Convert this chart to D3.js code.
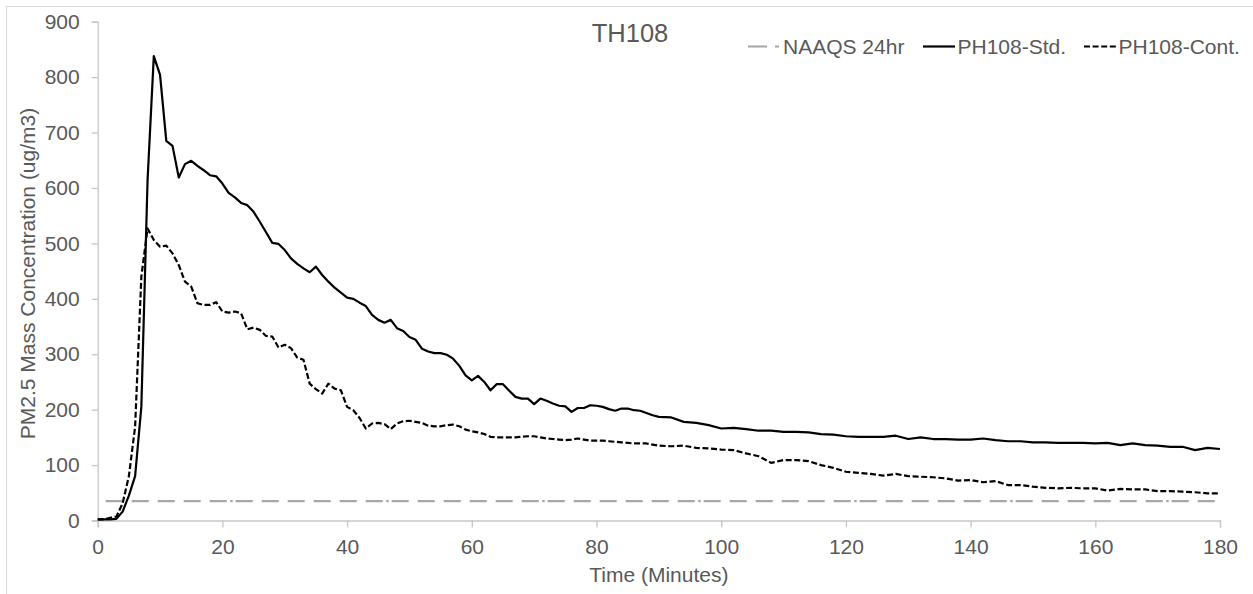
<!DOCTYPE html>
<html>
<head>
<meta charset="utf-8">
<script src="https://cdn.jsdelivr.net/npm/d3@7"></script>
<style>
  html, body { margin: 0; padding: 0; background: #ffffff; }
  svg { display: block; font-family: "Liberation Sans", Arial, sans-serif; }
</style>
</head>
<body>
<svg id="chart" width="1253" height="594"></svg>
<script>
// ---------------- DATA ----------------
const chartTitle = "TH108";
const xAxisTitle = "Time (Minutes)";
const yAxisTitle = "PM2.5 Mass Concentration (ug/m3)";
const xTicks = [0, 20, 40, 60, 80, 100, 120, 140, 160, 180];
const yTicks = [0, 100, 200, 300, 400, 500, 600, 700, 800, 900];
const seriesNames = ["NAAQS 24hr", "PH108-Std.", "PH108-Cont."];

const minutes = [
  0,1,2,3,4,5,6,7,8,9,10,11,12,13,14,15,16,17,18,19,20,21,22,23,24,25,26,27,28,29,
  30,31,32,33,34,35,36,37,38,39,40,41,42,43,44,45,46,47,48,49,50,51,52,53,54,55,56,57,58,59,
  60,61,62,63,64,65,66,67,68,69,70,71,72,73,74,75,76,77,78,79,80,81,82,83,84,85,86,87,88,89,90,
  92,94,96,98,100,102,104,106,108,110,112,114,116,118,120,122,124,126,128,130,
  132,134,136,138,140,142,144,146,148,150,152,154,156,158,160,162,164,166,168,170,
  172,174,176,178,180
];

const stdValues = [
  2,2,2,3,16,45,80,205,615,838,804,685,676,619,643,649,640,632,623,621,608,591,583,573,569,557,539,520,501,499,
  488,473,463,455,448,458,443,431,420,411,402,400,393,387,371,362,357,362,347,342,331,326,310,305,302,302,299,292,279,262,
  253,261,250,235,246,246,234,223,220,220,210,220,216,211,207,206,196,203,203,208,207,205,201,198,202,202,199,198,194,190,187,
  186,178,176,172,166,167,165,162,162,160,160,159,156,155,152,151,151,151,153,147,
  150,147,147,146,146,148,145,143,143,141,141,140,140,140,139,140,136,139,136,135,
  133,133,127,131,129
];

const contValues = [
  2,2,5,7,31,80,169,440,527,506,494,496,482,461,431,422,392,389,389,394,377,375,377,374,345,348,344,333,332,312,
  317,311,294,290,247,237,229,247,238,235,205,199,185,166,175,176,174,165,175,179,180,178,176,171,170,170,172,173,170,164,
  161,159,156,151,150,150,150,150,151,152,152,150,148,147,146,145,146,148,146,144,144,144,143,142,141,140,139,139,139,137,135,
  134,135,131,130,128,127,121,116,104,109,109,107,100,95,88,86,84,81,84,80,
  79,78,76,72,73,69,71,64,64,61,59,58,59,58,58,54,57,56,56,53,
  53,52,51,49,49
];

const naaqsValue = 35;

// ---------------- LAYOUT ----------------
const W = 1253, H = 594;
const plot = { left: 97.7, right: 1220, top: 21.7, bottom: 520.5 };
const textColor = "#595959";
const axisColor = "#c6c6c6";
const fontSize = 21;

const svg = d3.select("#chart");

// outer chart border (only top/left visible in the crop)
svg.append("rect")
  .attr("x", 6.5).attr("y", 6.5)
  .attr("width", W + 20).attr("height", H + 20)
  .attr("fill", "#ffffff")
  .attr("stroke", "#d9d9d9").attr("stroke-width", 1);

const x = d3.scaleLinear().domain([0, 180]).range([plot.left, plot.right]);
const y = d3.scaleLinear().domain([0, 900]).range([plot.bottom, plot.top]);

// ---------------- AXES ----------------
const yAxis = d3.axisLeft(y).tickValues(yTicks).tickSize(6).tickPadding(12).tickFormat(d3.format("d"));
const xAxis = d3.axisBottom(x).tickValues(xTicks).tickSize(7).tickPadding(9).tickFormat(d3.format("d"));

const gy = svg.append("g").attr("transform", `translate(${plot.left},0)`).call(yAxis);
const gx = svg.append("g").attr("transform", `translate(0,${plot.bottom})`).call(xAxis);

[gx, gy].forEach(g => {
  g.select(".domain").attr("stroke", axisColor).attr("stroke-width", 1.3);
  g.selectAll(".tick line").attr("stroke", axisColor).attr("stroke-width", 1.3);
  g.selectAll(".tick text")
    .attr("fill", textColor)
    .style("font-size", fontSize + "px")
    .style("font-family", "'Liberation Sans', Arial, sans-serif");
});
gx.selectAll(".tick text").attr("dy", "0.85em");

// ---------------- LINES ----------------
const lineGen = d3.line()
  .x(d => x(d.t))
  .y(d => y(d.v));

const stdData = minutes.map((t, i) => ({ t, v: stdValues[i] }));
const contData = minutes.map((t, i) => ({ t, v: contValues[i] }));
const naaqsData = minutes.map(t => ({ t, v: naaqsValue }));

// NAAQS long-dash (with occasional dot)
svg.append("path")
  .datum(naaqsData)
  .attr("d", lineGen)
  .attr("fill", "none")
  .attr("stroke", "#a6a6a6")
  .attr("stroke-width", 2.2)
  .attr("stroke-dasharray", "17,9,17,9,17,9,17,9,17,9,17,3.5,2.5,3")
  .attr("stroke-dashoffset", 18);

svg.append("path")
  .datum(contData)
  .attr("d", lineGen)
  .attr("fill", "none")
  .attr("stroke", "#000000")
  .attr("stroke-width", 2.2)
  .attr("stroke-linejoin", "round")
  .attr("stroke-dasharray", "6,2.6");

svg.append("path")
  .datum(stdData)
  .attr("d", lineGen)
  .attr("fill", "none")
  .attr("stroke", "#000000")
  .attr("stroke-width", 2.2)
  .attr("stroke-linejoin", "round");

// ---------------- TITLES ----------------
svg.append("text")
  .attr("x", 630).attr("y", 41.5)
  .attr("text-anchor", "middle")
  .attr("fill", textColor)
  .style("font-size", "25.5px")
  .text(chartTitle);

svg.append("text")
  .attr("x", (plot.left + plot.right) / 2).attr("y", 582)
  .attr("text-anchor", "middle")
  .attr("fill", textColor)
  .style("font-size", fontSize + "px")
  .text(xAxisTitle);

svg.append("text")
  .attr("transform", `translate(35,${(107 + 440) / 2}) rotate(-90)`)
  .attr("text-anchor", "middle")
  .attr("fill", textColor)
  .style("font-size", fontSize + "px")
  .text(yAxisTitle);

// ---------------- LEGEND ----------------
const legendY = 46.5;
const legendItems = [
  { name: seriesNames[0], x0: 748, x1: 781, color: "#a6a6a6", dash: "19,8,4,40", tx: 783 },
  { name: seriesNames[1], x0: 923, x1: 955, color: "#000000", dash: null, tx: 957.5 },
  { name: seriesNames[2], x0: 1084, x1: 1117, color: "#000000", dash: "6,2.6", tx: 1118.5 }
];
const lg = svg.append("g");
legendItems.forEach(it => {
  const l = lg.append("line")
    .attr("x1", it.x0).attr("x2", it.x1)
    .attr("y1", legendY).attr("y2", legendY)
    .attr("stroke", it.color).attr("stroke-width", 2.2);
  if (it.dash) l.attr("stroke-dasharray", it.dash);
  lg.append("text")
    .attr("x", it.tx).attr("y", legendY)
    .attr("dy", "0.36em")
    .attr("fill", textColor)
    .style("font-size", fontSize + "px")
    .text(it.name);
});
</script>
</body>
</html>
